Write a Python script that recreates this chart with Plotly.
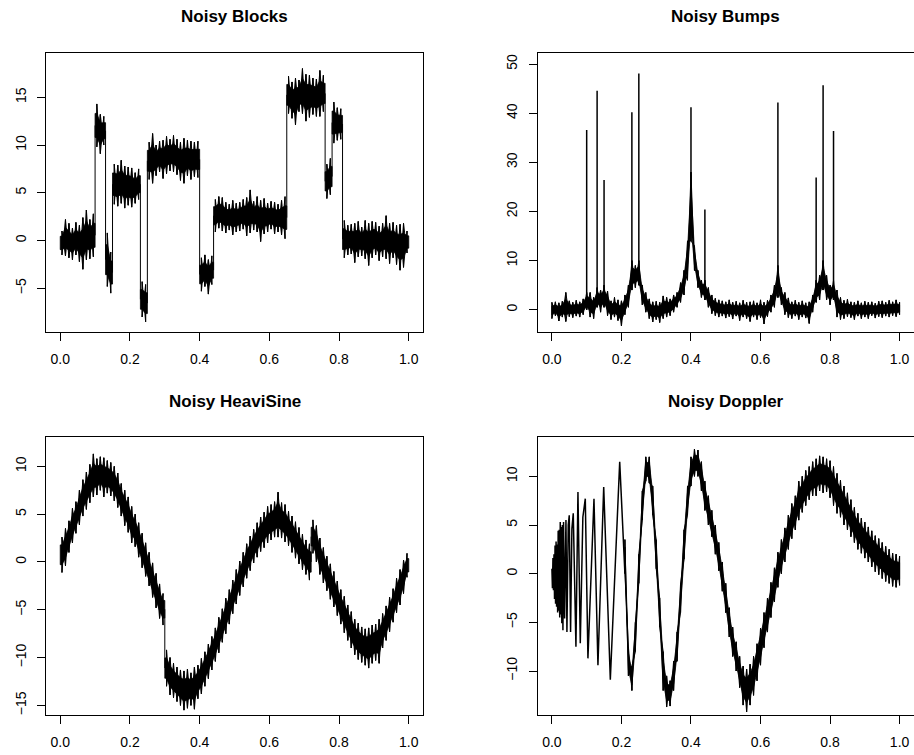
import plotly.graph_objects as go

# ---------------- data ----------------
# Noisy Blocks: band (low / high) per 0.01-wide bin, bin centres 0.005 ... 0.995
BLOCKS_X = [round(0.005 + 0.01 * i, 3) for i in range(100)]
BLOCKS_LO = [-1.5, -1.6, -1.8, -2.0, -1.5, -2.2, -3.0, -2.0, -1.9, -1.7,
             9.8, 9.1, 10.0,
             -4.8, -5.5,
             3.8, 3.6, 3.9, 3.4, 3.7, 3.5, 3.9, 4.3,
             -8.0, -8.5,
             6.4, 6.0, 6.8, 7.2, 6.5, 7.0, 7.3, 7.2, 6.9, 6.3, 6.0, 6.8, 6.4, 6.7, 6.6,
             -5.3, -4.8, -5.6, -4.6,
             0.9, 1.3, 1.0, 0.8, 1.1, 0.6, 0.9, 1.0, 1.2, 0.5, 0.8, 1.1, 0.9, -0.1, 0.7, 0.9, 1.2, 0.7, 0.9, 0.6, 0.2,
             13.3, 12.8, 12.1, 13.5, 13.3, 12.5, 12.9, 13.2, 13.0, 13.0, 13.5,
             4.4, 4.8,
             10.2, 10.5, 10.6,
             -1.8, -1.5, -1.4, -2.3, -1.7, -1.6, -1.9, -2.6, -1.8, -1.5, -2.1, -1.7, -1.9, -2.4, -1.8, -2.5, -3.1, -2.8, -1.3]
BLOCKS_HI = [1.0, 2.2, 1.8, 1.3, 1.9, 1.6, 2.4, 3.2, 2.2, 2.8,
             14.3, 13.2, 13.0,
             0.8, -1.2,
             8.0, 7.9, 8.4, 7.8, 7.7, 7.6, 7.1, 7.5,
             -4.3, -4.6,
             10.3, 11.2, 10.0, 10.4, 10.5, 10.9, 10.6, 11.0, 10.6, 10.3, 10.7, 10.5, 10.4, 10.3, 10.4,
             -1.8, -1.5, -2.0, -1.6,
             4.3, 4.6, 4.5, 4.0, 3.8, 4.2, 3.9, 4.0, 4.3, 4.5, 5.3, 4.1, 4.6, 4.2, 4.4, 3.9, 4.1, 4.0, 3.8, 4.2, 4.6,
             17.2, 16.6, 17.0, 16.8, 18.0, 17.4, 17.3, 17.0, 16.9, 17.8, 17.3,
             8.0, 8.6,
             14.5, 13.9, 13.8,
             2.1, 1.6, 1.7, 1.8, 2.0, 1.4, 2.1, 1.8, 2.0, 1.9, 1.5, 1.8, 2.6, 1.8, 1.9, 1.6, 1.7, 1.8, 1.0]
BLOCKS_EDGES = [0.0, 0.10, 0.13, 0.15, 0.23, 0.25, 0.40, 0.44, 0.65, 0.76, 0.78, 0.81, 1.0]

# Noisy Bumps: noise band per grid point 0.00 ... 1.00 (step 0.01) and the spike tops
BUMPS_X = [round(0.01 * i, 2) for i in range(101)]
BUMPS_LO = [-1.8, -1.2, -2.3, -1.5, -2.4, -1.4, -1.6, -1.3, -1.5, -1.0,
            0.0, -1.5, -1.8, 0.5, -0.5, 0.5, -1.2, -2.0, -1.5, -2.2,
            -3.3, -1.0, 0.5, 4.0, 4.5, 5.0, 1.0, -0.5, -1.8, -2.5,
            -2.0, -2.6, -1.8, -1.5, -1.2, -0.5, 0.5, 1.5, 3.0, 6.0,
            14.0, 8.0, 4.5, 2.5, 2.0, 0.5, -0.8, -1.2, -1.5, -1.3,
            -1.7, -1.4, -1.9, -1.3, -2.2, -1.5, -1.8, -2.4, -1.5, -2.0,
            -1.6, -2.9, -1.4, -0.5, 0.5, 2.5, 1.0, -1.0, -1.6, -1.8,
            -1.3, -2.0, -1.5, -1.7, -2.8, -0.5, 1.5, 2.0, 4.0, 2.0,
            1.0, 2.0, -1.5, -2.0, -1.8, -1.4, -1.6, -2.0, -1.3, -1.8,
            -1.5, -1.8, -1.2, -1.7, -1.4, -1.6, -1.3, -1.5, -1.2, -1.4,
            -1.0]
BUMPS_HI = [1.5, 1.6, 1.4, 1.7, 3.5, 1.8, 1.5, 1.9, 1.6, 2.2,
            3.5, 3.5, 2.5, 4.5, 4.0, 5.0, 3.8, 1.8, 2.5, 2.0,
            1.8, 3.0, 5.0, 10.0, 9.0, 10.0, 5.0, 3.5, 2.2, 1.6,
            1.7, 1.5, 2.8, 2.5, 2.2, 3.0, 3.5, 5.5, 8.0, 14.0,
            28.0, 13.0, 8.0, 6.0, 6.0, 4.5, 3.0, 2.3, 2.0, 1.8,
            1.6, 2.0, 1.5, 1.7, 1.4, 1.9, 1.5, 1.6, 1.8, 1.4,
            2.0, 1.5, 1.9, 3.0, 5.0, 9.0, 4.5, 3.5, 2.4, 1.6,
            1.9, 1.5, 1.8, 1.4, 1.6, 3.0, 6.0, 7.0, 10.0, 7.0,
            5.0, 6.0, 4.0, 2.5, 1.9, 2.1, 1.6, 1.5, 1.8, 1.4,
            1.7, 1.5, 1.6, 1.3, 1.7, 1.8, 1.5, 1.9, 1.6, 2.0,
            1.5]
BUMPS_EDGES = [0.0, 1.0]
SPIKE_X = [0.10, 0.13, 0.15, 0.23, 0.25, 0.40, 0.44, 0.65, 0.76, 0.78, 0.81]
SPIKE_TOP = [36.6, 44.6, 26.4, 40.2, 48.1, 41.2, 20.4, 42.2, 26.9, 45.7, 36.4]

# Noisy HeaviSine: band per 0.01-wide bin, bin centres 0.005 ... 0.995
HEAVI_X = [round(0.005 + 0.01 * i, 3) for i in range(100)]
HEAVI_LO = [-1.1, -0.4, 1.0, 2.0, 3.0, 3.9, 4.8, 5.5, 6.2, 6.8,
            7.0, 7.5, 6.8, 7.2, 6.9, 6.4, 5.7, 4.8, 3.8, 3.1,
            2.0, 1.6, 0.5, -0.6, -1.5, -2.5, -3.7, -4.8, -5.9, -6.6,
            -13.0, -13.9, -14.2, -14.6, -15.0, -15.5, -15.3, -15.0, -15.4, -14.3,
            -13.8, -13.0, -12.2, -11.3, -10.4, -9.5, -8.4, -7.5, -6.5, -5.4,
            -4.4, -3.5, -2.6, -1.7, -0.9, -0.1, 0.5, 1.1, 1.5, 2.0,
            2.3, 2.6, 2.6, 2.5, 2.1, 1.7, 1.0, 0.4, -0.2, -0.8,
            -1.3, -1.9, 0.9, 0.0, -1.3, -2.2, -3.0, -3.9, -4.7, -5.6,
            -6.5, -7.4, -8.2, -9.0, -9.7, -10.2, -10.5, -10.8, -11.1, -10.6,
            -10.3, -10.6, -9.0, -8.2, -7.3, -6.3, -5.3, -4.5, -3.3, -1.6]
HEAVI_HI = [2.6, 3.5, 4.3, 5.6, 6.3, 7.5, 8.6, 9.4, 10.2, 11.3,
            10.8, 11.0, 10.9, 10.6, 10.4, 10.0, 9.3, 8.2, 7.5, 6.8,
            5.8, 5.0, 4.1, 3.0, 2.0, 1.0, -0.1, -1.2, -2.3, -3.3,
            -9.2, -10.0, -10.6, -11.0, -11.3, -11.4, -11.2, -11.6, -11.0, -10.8,
            -10.1, -9.4, -8.6, -7.8, -6.9, -5.8, -4.9, -3.8, -2.9, -1.9,
            -0.8, 0.1, 1.0, 1.9, 2.7, 3.4, 4.1, 4.7, 5.2, 5.8,
            6.0, 6.3, 7.3, 6.2, 6.0, 5.3, 4.8, 4.2, 3.6, 2.9,
            2.3, 1.9, 4.4, 3.8, 2.5, 1.5, 0.6, -0.2, -1.0, -2.0,
            -2.9, -3.6, -4.5, -5.2, -6.0, -6.4, -6.8, -7.0, -6.9, -6.6,
            -6.5, -6.0, -5.4, -4.6, -3.7, -2.8, -1.7, -0.8, 0.2, 0.9]
HEAVI_EDGES = [0.0, 0.30, 0.72, 1.0]

# Noisy Doppler, left part: turning points of the fast oscillation (t, value)
DOP_OSC_T = [0.000, 0.0015, 0.003, 0.0045, 0.006, 0.0075, 0.009, 0.0105, 0.012, 0.0135,
             0.015, 0.0165, 0.018, 0.0195, 0.021, 0.0225, 0.024, 0.0255, 0.027, 0.0285,
             0.030, 0.0317, 0.0335, 0.0365, 0.0404, 0.0432, 0.0470, 0.0499, 0.0537, 0.0575,
             0.0614, 0.0691, 0.0749, 0.0816, 0.0890, 0.0960, 0.1036, 0.1210, 0.1324, 0.1490,
             0.1680, 0.1950]
DOP_OSC_Y = [0.5, -1.5, 1.6, -1.7, 2.0, -2.6, 2.9, -3.1, 3.3, -3.4,
             3.0, -4.0, 4.4, -3.8, 4.5, -4.5, 5.3, -4.2, 4.8, -5.1,
             5.0, -5.8, 5.3, -4.6, 5.5, -6.0, 5.0, 6.0, -6.0, 4.6,
             6.2, -7.5, 8.4, -7.15, 5.8, 7.7, -8.7, 7.7, -9.4, 8.9,
             -10.9, 11.5]
# Noisy Doppler, right part: band per grid point 0.21 ... 1.00 (step 0.01)
DOP_X = [round(0.01 * i, 2) for i in range(21, 101)]
DOP_LO = [0.0, -10.5, -12.0, -8.0, -1.0, 5.5, 9.5, 9.3, 6.0, 0.5,
          -5.5, -12.0, -13.7, -13.6, -12.0, -9.0, -4.0, 1.5, 6.0, 9.0,
          10.0, 10.0, 8.5, 6.5, 5.0, 3.8, 2.0, 0.3, -1.8, -4.0,
          -6.5, -8.5, -10.0, -11.7, -13.5, -14.2, -13.5, -12.5, -11.0, -9.4,
          -7.6, -6.0, -4.5, -2.9, -1.4, 0.0, 1.2, 2.5, 3.6, 4.5,
          5.5, 6.3, 7.0, 7.6, 8.0, 8.0, 8.5, 8.3, 8.4, 7.8,
          7.0, 6.2, 5.8, 5.0, 4.5, 3.8, 3.2, 2.5, 2.1, 1.6,
          1.2, 0.7, 0.2, -0.1, -0.5, -0.8, -1.0, -1.3, -1.4, -1.2]
DOP_HI = [3.5, -7.5, -9.5, -5.0, 2.0, 8.5, 12.0, 12.0, 9.0, 3.5,
          -2.5, -8.0, -10.5, -11.0, -9.0, -6.0, -1.0, 4.5, 9.0, 12.0,
          12.8, 12.7, 11.5, 9.5, 8.0, 6.5, 5.0, 3.2, 1.2, -1.0,
          -3.5, -5.5, -7.0, -8.5, -9.5, -9.8, -9.3, -8.5, -7.2, -5.6,
          -4.0, -2.5, -0.9, 0.6, 2.2, 3.5, 4.7, 6.0, 7.2, 8.0,
          9.5, 10.0, 10.6, 11.0, 11.5, 11.8, 12.1, 12.0, 11.8, 11.6,
          11.0, 10.3, 9.6, 9.0, 8.3, 7.6, 6.8, 6.2, 5.7, 5.3,
          4.8, 4.4, 3.9, 3.6, 3.2, 2.8, 2.5, 2.1, 2.0, 1.8]
DOP_EDGES = [0.21, 1.0]

TITLES = ["Noisy Blocks", "Noisy Bumps", "Noisy HeaviSine", "Noisy Doppler"]
X_TICKS = [0.0, 0.2, 0.4, 0.6, 0.8, 1.0]
Y_TICKS = [[-5, 0, 5, 10, 15], [0, 10, 20, 30, 40, 50],
           [-15, -10, -5, 0, 5, 10], [-10, -5, 0, 5, 10]]

CORE = 0.22   # share of each bin's spread drawn as thin spikes rather than solid core


def split(xs, lo, hi, edges):
    """group the bins into the stretches between jumps"""
    groups = []
    for a, b in zip(edges[:-1], edges[1:]):
        g = [(x, l, h) for x, l, h in zip(xs, lo, hi) if a - 1e-9 <= x <= b + 1e-9
             and not (x == b and b != edges[-1])]
        groups.append((a, b, g))
    return groups


def draw_noise(xs, lo, hi, edges):
    groups = split(xs, lo, hi, edges)
    fx, fy = [], []          # solid core polygons
    zx, zy = [], []          # crossing zig-zags reaching the extremes
    jx, jy = [], []          # vertical jump connectors
    for a, b, g in groups:
        core = [(x, l + CORE * (h - l), h - CORE * (h - l)) for x, l, h in g]
        core = [(a, core[0][1], core[0][2])] + core + [(b, core[-1][1], core[-1][2])]
        fx += [c[0] for c in core] + [c[0] for c in reversed(core)] + [core[0][0], None]
        fy += [c[1] for c in core] + [c[2] for c in reversed(core)] + [core[0][1], None]
        for up in (True, False):
            for x, l, h in g:
                zx += [x, x]
                zy += [l, h] if up else [h, l]
            zx.append(None)
            zy.append(None)
    for (a1, b1, g1), (a2, b2, g2) in zip(groups[:-1], groups[1:]):
        jx += [b1, b1, None]
        jy += [(g1[-1][1] + g1[-1][2]) / 2, (g2[0][1] + g2[0][2]) / 2, None]
    return (fx, fy), [(zx, zy), (jx, jy)]


def spikes(sx, top, xs, lo):
    px, py = [], []
    for x, t in zip(sx, top):
        base = lo[xs.index(x)]
        px += [x, x, None]
        py += [base, t, None]
    return px, py


panels = []
for xs, lo, hi, edges, thick in [
        (BLOCKS_X, BLOCKS_LO, BLOCKS_HI, BLOCKS_EDGES, []),
        (BUMPS_X, BUMPS_LO, BUMPS_HI, BUMPS_EDGES, [spikes(SPIKE_X, SPIKE_TOP, BUMPS_X, BUMPS_LO)]),
        (HEAVI_X, HEAVI_LO, HEAVI_HI, HEAVI_EDGES, []),
        (DOP_X, DOP_LO, DOP_HI, DOP_EDGES, [(DOP_OSC_T + [DOP_X[0]], DOP_OSC_Y + [DOP_LO[0]])])]:
    fill, lines = draw_noise(xs, lo, hi, edges)
    panels.append(dict(fill=fill, lines=lines, thick=thick))

W, H = 914, 755
# plot boxes in pixels (left, right, top, bottom)
boxes = [(46.3, 422.7, 53.3, 332.3), (538.0, 913.5, 53.3, 332.3),
         (46.3, 422.7, 437.0, 715.3), (538.0, 913.5, 437.0, 715.3)]
y_ranges = [[-9.6, 19.6], [-4.6, 52.2], [-16.04, 13.07], [-14.55, 14.04]]
title_y = [17, 17, 401, 401]

FONT = "Liberation Sans, Arial, Helvetica, sans-serif"
fig = go.Figure()
layout = dict(width=W, height=H, margin=dict(l=0, r=0, t=0, b=0),
              paper_bgcolor="white", plot_bgcolor="white", showlegend=False,
              font=dict(family=FONT, size=14, color="black"), annotations=[])

for i, (p, (l, r, t, b)) in enumerate(zip(panels, boxes)):
    n = "" if i == 0 else str(i + 1)
    ax = dict(xaxis="x" + n, yaxis="y" + n, hoverinfo="skip")
    fx, fy = p["fill"]
    fig.add_trace(go.Scatter(x=fx, y=fy, mode="lines", fill="toself", fillcolor="black",
                             line=dict(color="black", width=0.8), **ax))
    for lx, ly in p["lines"]:
        fig.add_trace(go.Scatter(x=lx, y=ly, mode="lines",
                                 line=dict(color="black", width=1.0), **ax))
    for lx, ly in p["thick"]:
        fig.add_trace(go.Scatter(x=lx, y=ly, mode="lines",
                                 line=dict(color="black", width=1.5), **ax))
    axis_common = dict(showline=True, mirror=True, linecolor="black", linewidth=1,
                       ticks="outside", ticklen=8, tickwidth=1, tickcolor="black",
                       showgrid=False, zeroline=False,
                       tickfont=dict(family=FONT, size=14, color="black"))
    layout["xaxis" + n] = dict(axis_common, domain=[l / W, r / W], range=[-0.04, 1.04],
                               tickvals=X_TICKS, tickformat=".1f", anchor="y" + n,
                               ticklabelstandoff=6)
    layout["yaxis" + n] = dict(axis_common, domain=[1 - b / H, 1 - t / H], range=y_ranges[i],
                               tickvals=Y_TICKS[i], tickangle=-90, anchor="x" + n,
                               ticklabelstandoff=6)
    layout["annotations"].append(dict(text="<b>" + TITLES[i] + "</b>", xref="paper", yref="paper",
                                      x=(l + r) / 2 / W, y=1 - title_y[i] / H,
                                      xanchor="center", yanchor="middle", showarrow=False,
                                      font=dict(family=FONT, size=17, color="black")))

fig.update_layout(**layout)
fig.write_html("out.html", config={"displayModeBar": False, "staticPlot": True},
               post_script="document.body.style.margin='0px';document.body.style.overflow='hidden';")
